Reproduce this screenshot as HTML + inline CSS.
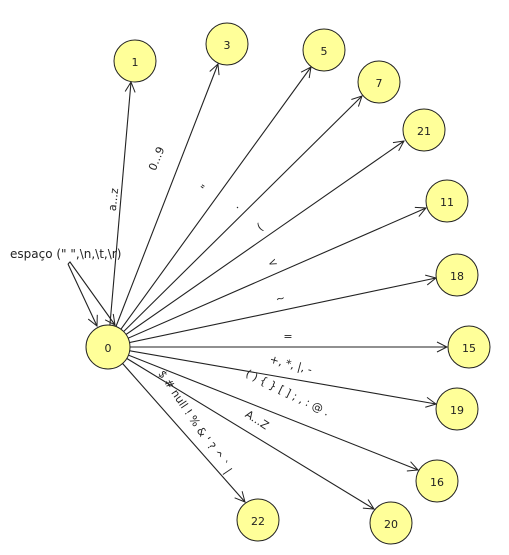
<!DOCTYPE html>
<html><head><style>body{margin:0;background:#fff}svg{display:block}text{font-family:"DejaVu Sans","Liberation Sans",sans-serif;font-size:11px;fill:#222}</style></head><body>
<svg width="509" height="555" viewBox="0 0 509 555" xmlns="http://www.w3.org/2000/svg">
<defs><marker id="a" markerWidth="12" markerHeight="12" refX="11" refY="6" orient="auto" markerUnits="userSpaceOnUse"><path d="M1,1 L11,6 L1,11" fill="none" stroke="#222" stroke-width="1"/></marker></defs>
<g stroke="#222" stroke-width="1.1" fill="none" marker-end="url(#a)">
<line x1="108" y1="347" x2="131" y2="82"/>
<line x1="108" y1="347" x2="218" y2="64"/>
<line x1="108" y1="347" x2="311" y2="67"/>
<line x1="108" y1="347" x2="362" y2="96"/>
<line x1="108" y1="347" x2="404" y2="141"/>
<line x1="108" y1="347" x2="426" y2="208"/>
<line x1="108" y1="347" x2="436" y2="278"/>
<line x1="108" y1="347" x2="447" y2="347"/>
<line x1="108" y1="347" x2="436" y2="404"/>
<line x1="108" y1="347" x2="418" y2="470"/>
<line x1="108" y1="347" x2="374" y2="509"/>
<line x1="108" y1="347" x2="245" y2="502"/>
<polyline points="68,264 97,326" />
<polyline points="68,264 70,262 115,325" />
</g>
<g fill="#ffff99" stroke="#222" stroke-width="1">
<circle cx="108" cy="347" r="22"/>
<circle cx="135" cy="61" r="21"/>
<circle cx="227" cy="44" r="21"/>
<circle cx="324" cy="50" r="21"/>
<circle cx="379" cy="82" r="21"/>
<circle cx="424" cy="130" r="21"/>
<circle cx="447" cy="201" r="21"/>
<circle cx="457" cy="275" r="21"/>
<circle cx="469" cy="347" r="21"/>
<circle cx="457" cy="409" r="21"/>
<circle cx="437" cy="481" r="21"/>
<circle cx="391" cy="523" r="21"/>
<circle cx="258" cy="520" r="21"/>
</g>
<g text-anchor="middle" style="font-size:12px">
<text x="108" y="352">0</text><text x="135" y="66">1</text><text x="227" y="49">3</text><text x="324" y="55">5</text><text x="379" y="87">7</text><text x="424" y="135">21</text><text x="447" y="206">11</text><text x="457" y="280">18</text><text x="469" y="352">15</text><text x="457" y="414">19</text><text x="437" y="486">16</text><text x="391" y="528">20</text><text x="258" y="525">22</text>
</g>
<g text-anchor="middle" style="font-size:12px">
<text transform="translate(117,200) rotate(-84)">a...z</text>
<text transform="translate(160,160) rotate(-68)">0...9</text>
<text transform="translate(208,190) rotate(-56)">"</text>
<text transform="translate(238,208) rotate(-45)">.</text>
<text transform="translate(262,230) rotate(-35)">(</text>
<text transform="translate(274,266) rotate(-23)">&lt;</text>
<text transform="translate(281,302) rotate(-12)">~</text>
<text x="288" y="340">=</text>
<text transform="translate(290,368) rotate(15)">+, *, |, -</text>
<text transform="translate(286,396) rotate(26)">( ) { } [ ] ; , : @ .</text>
<text transform="translate(255,423) rotate(33)">A...Z</text>
<text transform="translate(192,424) rotate(56)">$ # null ! % &amp; ' ? ^ ` |</text>
</g>
<text x="10" y="258" style="font-size:12px">espaço (" ",\n,\t,\r)</text>
</svg>
</body></html>
